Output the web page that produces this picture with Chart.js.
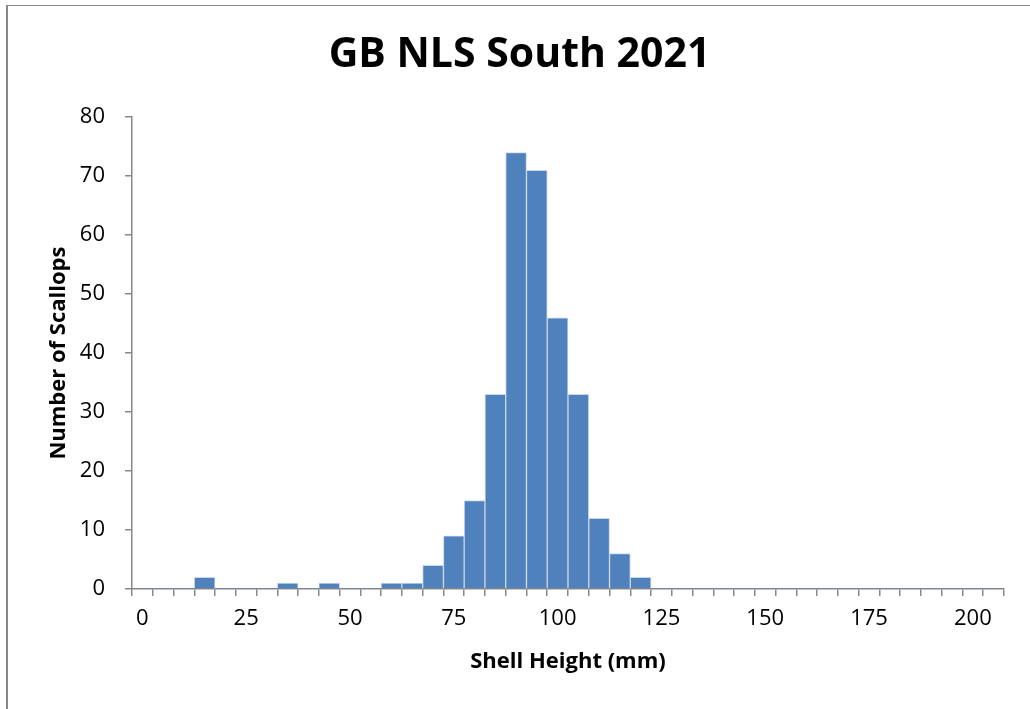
<!DOCTYPE html>
<html>
<head>
<meta charset="utf-8">
<script src="https://cdn.jsdelivr.net/npm/chart.js@4"></script>
<style>
  html, body { margin: 0; padding: 0; background: #fff; }
  #wrap { position: relative; width: 1030px; height: 709px; overflow: hidden; }
  #frame { position: absolute; left: 6px; top: 5px; width: 1100px; height: 800px;
           border-left: 2px solid #878787; border-top: 1px solid #878787; pointer-events: none; }
</style>
</head>
<body>
<div id="wrap">
  <canvas id="histChart"></canvas>
  <div id="frame"></div>
</div>
<script>
// shell height bins (mm), 5 mm wide
const categories = ['0', '5', '10', '15', '20', '25', '30', '35', '40', '45',
    '50', '55', '60', '65', '70', '75', '80', '85', '90', '95',
    '100', '105', '110', '115', '120', '125', '130', '135', '140', '145',
    '150', '155', '160', '165', '170', '175', '180', '185', '190', '195',
    '200', '205'];
// number of scallops in each bin
const counts = [0, 0, 0, 2, 0, 0, 0, 1, 0, 1,
    0, 0, 1, 1, 4, 9, 15, 33, 74, 71,
    46, 33, 12, 6, 2, 0, 0, 0, 0, 0,
    0, 0, 0, 0, 0, 0, 0, 0, 0, 0,
    0, 0];
const yTicks = [0, 10, 20, 30, 40, 50, 60, 70, 80];

const axisGray = '#888888';
const fontName = "'Open Sans', sans-serif";

const ctx = document.getElementById('histChart').getContext('2d');

new Chart(ctx, {
    type: 'bar',
    data: {
        labels: categories,
        datasets: [{
            data: counts,
            backgroundColor: '#4F81BD',
            borderColor: '#C9D7EA',
            borderWidth: (c) => (c.raw ? 1 : 0),
            borderSkipped: 'bottom',
            barPercentage: 1,
            categoryPercentage: 1
        }]
    },
    options: {
        responsive: true,
        maintainAspectRatio: false,
        animation: false,
        layout: { padding: { top: 8, left: 35, right: 26, bottom: 30 } },
        plugins: {
            legend: { display: false },
            tooltip: { enabled: false },
            title: {
                display: true,
                text: 'GB NLS South 2021',
                color: '#000',
                font: { family: fontName, size: 41, weight: 'bold', lineHeight: 1.2 },
                padding: { top: 23, bottom: 37 }
            }
        },
        scales: {
            x: {
                offset: true,
                grid: { offset: true, drawOnChartArea: false, drawTicks: true, tickLength: 7, color: axisGray, lineWidth: 1.5 },
                border: { color: axisGray, width: 1.5 },
                ticks: {
                    autoSkip: false,
                    maxRotation: 0,
                    padding: 10,
                    color: '#000',
                    font: { family: fontName, size: 22 },
                    callback: (v, i) => (i % 5 === 0 ? categories[i] : '')
                },
                title: {
                    display: true,
                    text: 'Shell Height (mm)',
                    color: '#000',
                    font: { family: fontName, size: 22, weight: 'bold', lineHeight: 1.2 },
                    padding: { top: 0, bottom: 4 }
                },
                afterFit: (s) => { s.height = 90; }
            },
            y: {
                min: 0,
                max: 80,
                afterBuildTicks: (s) => { s.ticks = yTicks.map((v) => ({ value: v })); },
                grid: { drawOnChartArea: false, drawTicks: true, tickLength: 7, color: axisGray, lineWidth: 1.5 },
                border: { color: axisGray, width: 1.5 },
                ticks: {
                    padding: 20,
                    color: '#000',
                    font: { family: fontName, size: 22 }
                },
                title: {
                    display: true,
                    text: 'Number of Scallops',
                    color: '#000',
                    font: { family: fontName, size: 22, weight: 'bold', lineHeight: 1.2 },
                    padding: { top: 11, bottom: 0 }
                },
                afterFit: (s) => { s.width = 97; }
            }
        }
    }
});
</script>
</body>
</html>
